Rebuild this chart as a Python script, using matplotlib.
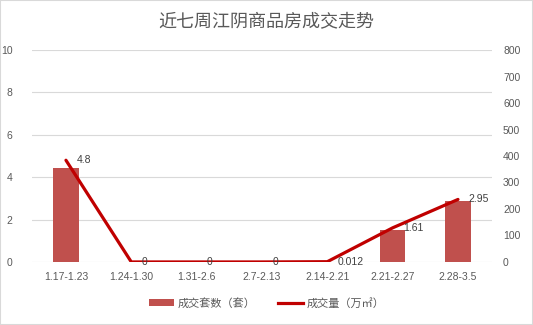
import matplotlib
matplotlib.use("Agg")
import matplotlib.pyplot as plt
from matplotlib.patches import Rectangle, Patch
from matplotlib.lines import Line2D

plt.rcParams['font.family'] = ['Liberation Sans', 'Noto Sans CJK SC', 'DejaVu Sans']

weeks = ["1.17-1.23", "1.24-1.30", "1.31-2.6", "2.7-2.13", "2.14-2.21", "2.21-2.27", "2.28-3.5"]
units_sold = [356, 0, 0, 0, 1, 121, 231]          # 成交套数（套）
area_sold = [4.8, 0, 0, 0, 0.012, 1.61, 2.95]     # 成交量（万㎡）
area_labels = ["4.8", "0", "0", "0", "0.012", "1.61", "2.95"]

title = "近七周江阴商品房成交走势"
bar_name = "成交套数（套）"
line_name = "成交量（万㎡）"

txt = "#595959"
grid = "#D9D9D9"
bar_color = "#C0504D"
line_color = "#C00000"
cjk = ['Noto Sans CJK SC', 'DejaVu Sans']

fig = plt.figure(figsize=(5.33, 3.25), dpi=100)
fig.patches.append(Rectangle((0, 0), 1, 1, transform=fig.transFigure,
                             fill=False, edgecolor="#D9D9D9", linewidth=1.5))

ax = fig.add_axes([0.060, 0.194, 0.863, 0.652])
ax2 = ax.twinx()

x = list(range(len(weeks)))

# bars on the secondary axis, line on the primary axis drawn above them
ax2.bar(x, units_sold, width=0.39, color=bar_color, zorder=2)
ax.set_zorder(ax2.get_zorder() + 1)
ax.patch.set_visible(False)
ax2.patch.set_facecolor("white")

ax.plot(x, area_sold, color=line_color, linewidth=2.3, solid_capstyle="round", zorder=3)
for xi, yi, lab in zip(x, area_sold, area_labels):
    ax.annotate(lab, (xi, yi), xytext=(7.5, 0), textcoords="offset points",
                ha="left", va="center", fontsize=7.5, color="#404040")

ax.set_ylim(0, 10)
ax.set_yticks(range(0, 11, 2))
ax2.set_ylim(0, 800)
ax2.set_yticks(range(0, 801, 100))
ax.set_xlim(-0.52, len(weeks) - 0.48)

for v in range(0, 11, 2):
    ax2.axhline(v * 80, color=grid, linewidth=0.8, zorder=0)

ax.set_xticks(x)
ax.set_xticklabels(weeks)
for a in (ax, ax2):
    for s in a.spines.values():
        s.set_visible(False)
    a.tick_params(length=0, labelsize=7.5, colors=txt)
ax.tick_params(axis="y", pad=14)
ax2.tick_params(axis="y", pad=8)
ax.tick_params(axis="x", pad=7)

fig.text(0.5, 0.932, title, ha="center", va="center", fontsize=13, color=txt, family=cjk)

handles = [Patch(facecolor=bar_color, edgecolor="none"),
           Line2D([0], [0], color=line_color, linewidth=2.3)]
leg = fig.legend(handles, [bar_name, line_name], loc="center", bbox_to_anchor=(0.5, 0.067),
                 ncol=2, frameon=False, handlelength=2.3, handleheight=0.6,
                 columnspacing=2.0, handletextpad=0.3,
                 prop={'family': cjk, 'size': 8})
for t in leg.get_texts():
    t.set_color(txt)

fig.savefig("out.png", dpi=100)
